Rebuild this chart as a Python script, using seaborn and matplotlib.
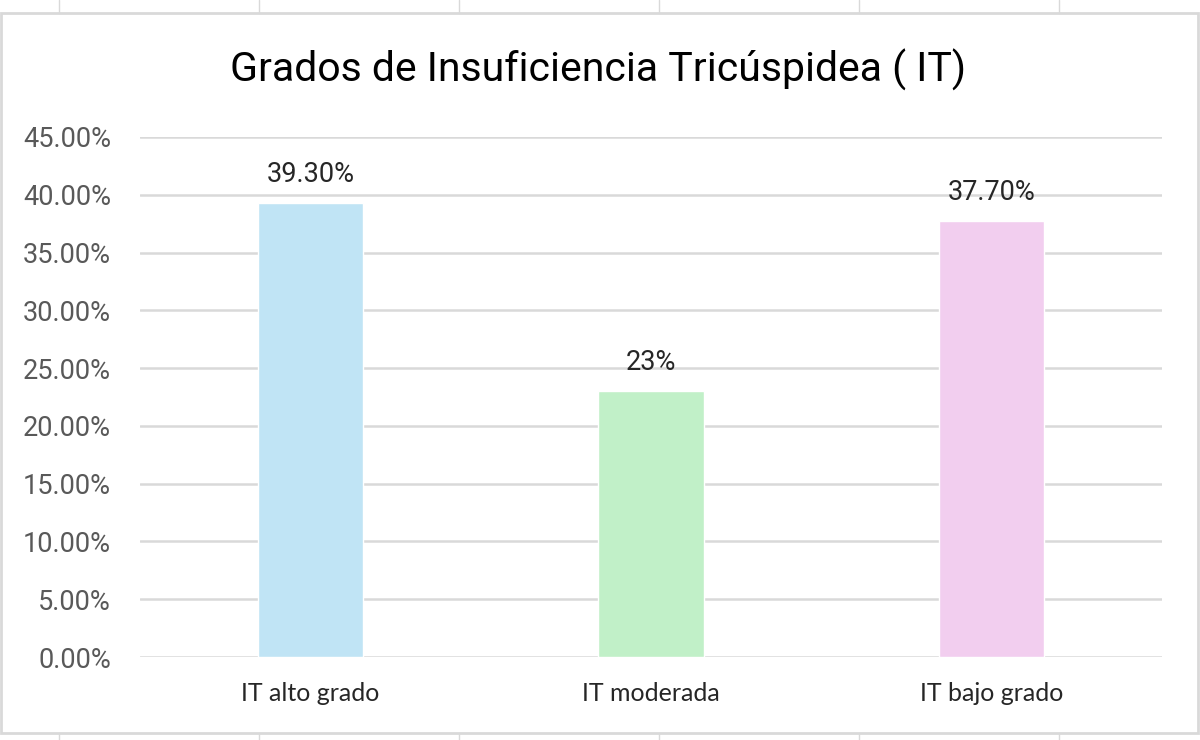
import matplotlib
matplotlib.use("Agg")
import matplotlib.pyplot as plt
import seaborn as sns
import pandas as pd
from matplotlib.lines import Line2D
from matplotlib.patches import Rectangle
from matplotlib.ticker import FuncFormatter


# DATA

categorias = ["IT alto grado", "IT moderada", "IT bajo grado"]
valores = [0.393, 0.23, 0.377]
etiquetas = ["39.30%", "23%", "37.70%"]
colores = ["#C0E4F5", "#C1F0C8", "#F2CEEF"]

df = pd.DataFrame({"Grado": categorias, "Porcentaje": valores})


# FIGURE

sns.set_theme(style="white")
plt.rcParams["font.family"] = ["Roboto", "DejaVu Sans"]

fig = plt.figure(figsize=(12, 7.4), dpi=100)
fig.patch.set_facecolor("white")

# spreadsheet cells behind the chart
for x in [59, 259, 459, 659, 859, 1059]:
    fig.add_artist(Line2D([x / 1200, x / 1200], [1, 1 - 13 / 740],
                          color="#D9D9D9", lw=1))
    fig.add_artist(Line2D([x / 1200, x / 1200], [1 - 733 / 740, 0],
                          color="#D9D9D9", lw=1))

# chart border
fig.add_artist(Rectangle((1 / 1200, 1 - 733 / 740), 1197 / 1200, 720 / 740,
                         fill=False, edgecolor="#D9D9D9", lw=2))

ax = fig.add_axes([140 / 1200, 1 - 657 / 740, 1022 / 1200, 520 / 740])

sns.barplot(
    data=df,
    x="Grado",
    y="Porcentaje",
    hue="Grado",
    palette=colores,
    width=0.31,
    legend=False,
    saturation=1,
    ax=ax,
    zorder=3
)

ax.set_ylim(0, 0.45)
ax.set_xlim(-0.5, 2.5)
ax.set_yticks([i * 0.05 for i in range(10)])
ax.yaxis.set_major_formatter(FuncFormatter(lambda v, p: f"{v * 100:.2f}%"))
ax.grid(axis="y", color="#D9D9D9", lw=1.8, zorder=0)
ax.grid(axis="x", visible=False)
ax.set_axisbelow(True)

for s in ax.spines.values():
    s.set_visible(False)

ax.set_xlabel("")
ax.set_ylabel("")
ax.tick_params(axis="y", length=0, pad=21, labelsize=19.5, labelcolor="#595959")
ax.tick_params(axis="x", length=0, pad=18, labelsize=18, labelcolor="#262626")
for t in ax.get_xticklabels():
    t.set_fontfamily(["Lato", "DejaVu Sans"])

# data labels above each bar
for i, v in enumerate(valores):
    ax.annotate(etiquetas[i], (i, v), xytext=(0, 11),
                textcoords="offset points", ha="center", va="bottom",
                fontsize=19.5, color="#262626")

fig.text(598 / 1200, 1 - 70 / 740, "Grados de Insuficiencia Tricúspidea ( IT)",
         ha="center", va="center", fontsize=29.5, color="#000000")

fig.savefig("out.png", dpi=100, facecolor="white")
